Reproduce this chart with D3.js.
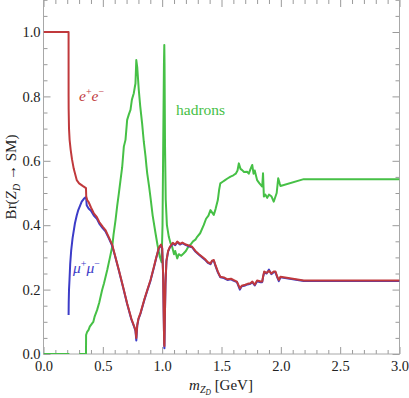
<!DOCTYPE html>
<html><head><meta charset="utf-8">
<script src="https://cdn.jsdelivr.net/npm/d3@7"></script>
<style>
html,body{margin:0;padding:0;background:#fff;}
svg{display:block;}
svg text{font-family:"Liberation Serif","Times New Roman","DejaVu Serif",serif !important;}
</style></head>
<body>
<script>
// ---- data ----
const xMajorTicks = [0, 0.5, 1, 1.5, 2, 2.5, 3];
const xTickLabels = ["0.0", "0.5", "1.0", "1.5", "2.0", "2.5", "3.0"];
const yMajorTicks = [0, 0.2, 0.4, 0.6, 0.8, 1.0];
const yTickLabels = ["0.0", "0.2", "0.4", "0.6", "0.8", "1.0"];

const eeData = [[0,1.0],[0.2113,1.0],[0.2115,0.80],[0.212,0.76],[0.215,0.70],[0.22,0.665],[0.229,0.634],[0.24,0.605],[0.255,0.575],[0.28,0.54],[0.30,0.53],[0.33,0.522],[0.358,0.515],[0.36,0.49],[0.368,0.478],[0.38,0.472],[0.40,0.455],[0.424,0.437],[0.45,0.425],[0.47,0.41],[0.50,0.395],[0.522,0.385],[0.55,0.363],[0.579,0.339],[0.60,0.31],[0.635,0.261],[0.67,0.21],[0.705,0.157],[0.74,0.11],[0.765,0.085],[0.775,0.075],[0.782,0.05],[0.79,0.09],[0.80,0.11],[0.817,0.127],[0.85,0.17],[0.88,0.205],[0.902,0.23],[0.93,0.27],[0.95,0.30],[0.972,0.33],[0.99,0.34],[1.0,0.33],[1.008,0.25],[1.013,0.12],[1.017,0.03],[1.019,0.025],[1.022,0.10],[1.028,0.22],[1.036,0.29],[1.05,0.32],[1.065,0.333],[1.09,0.345],[1.11,0.34],[1.127,0.349],[1.15,0.342],[1.17,0.346],[1.2,0.34],[1.23,0.336],[1.253,0.333],[1.28,0.32],[1.31,0.31],[1.337,0.302],[1.36,0.295],[1.385,0.285],[1.407,0.281],[1.42,0.29],[1.435,0.292],[1.45,0.275],[1.47,0.255],[1.49,0.24],[1.52,0.238],[1.55,0.232],[1.58,0.234],[1.60,0.23],[1.63,0.225],[1.655,0.204],[1.67,0.212],[1.70,0.215],[1.72,0.218],[1.744,0.22],[1.76,0.225],[1.78,0.215],[1.80,0.228],[1.83,0.225],[1.843,0.225],[1.85,0.24],[1.86,0.256],[1.88,0.252],[1.90,0.258],[1.92,0.25],[1.94,0.256],[1.955,0.256],[1.97,0.24],[1.983,0.23],[1.997,0.24],[2.193,0.228],[3.0,0.228]];

const mumuData = [[0.2115,0.121],[0.2125,0.16],[0.215,0.20],[0.219,0.23],[0.225,0.28],[0.233,0.32],[0.245,0.36],[0.265,0.406],[0.28,0.43],[0.293,0.447],[0.31,0.462],[0.322,0.473],[0.34,0.482],[0.355,0.487],[0.36,0.482],[0.364,0.462],[0.38,0.452],[0.40,0.445],[0.424,0.43],[0.45,0.42],[0.47,0.405],[0.50,0.39],[0.522,0.381],[0.55,0.36],[0.579,0.336],[0.60,0.308],[0.635,0.259],[0.67,0.208],[0.705,0.155],[0.74,0.108],[0.765,0.083],[0.775,0.072],[0.782,0.042],[0.79,0.088],[0.80,0.108],[0.817,0.125],[0.85,0.168],[0.88,0.203],[0.902,0.228],[0.93,0.268],[0.95,0.298],[0.972,0.328],[0.99,0.338],[1.0,0.328],[1.008,0.248],[1.013,0.118],[1.017,0.028],[1.019,0.018],[1.022,0.098],[1.028,0.218],[1.036,0.288],[1.05,0.318],[1.065,0.331],[1.09,0.343],[1.11,0.338],[1.127,0.347],[1.15,0.34],[1.17,0.344],[1.2,0.338],[1.23,0.334],[1.253,0.331],[1.28,0.318],[1.31,0.308],[1.337,0.3],[1.36,0.293],[1.385,0.283],[1.407,0.279],[1.42,0.288],[1.435,0.29],[1.45,0.273],[1.47,0.253],[1.49,0.238],[1.52,0.236],[1.55,0.23],[1.58,0.232],[1.60,0.228],[1.63,0.223],[1.655,0.2],[1.67,0.21],[1.70,0.213],[1.72,0.216],[1.744,0.218],[1.76,0.223],[1.78,0.213],[1.80,0.226],[1.83,0.223],[1.843,0.223],[1.85,0.238],[1.86,0.254],[1.88,0.25],[1.90,0.262],[1.92,0.248],[1.94,0.254],[1.955,0.254],[1.97,0.238],[1.983,0.226],[1.997,0.238],[2.193,0.227],[3.0,0.227]];

const hadronsData = [[0,0],[0.218,0],null,[0.302,0],[0.358,0],[0.359,0.059],[0.368,0.069],[0.38,0.075],[0.39,0.085],[0.41,0.095],[0.42,0.10],[0.43,0.115],[0.452,0.137],[0.47,0.16],[0.494,0.199],[0.51,0.22],[0.537,0.261],[0.56,0.30],[0.579,0.333],[0.59,0.37],[0.607,0.416],[0.621,0.46],[0.635,0.499],[0.649,0.54],[0.663,0.58],[0.677,0.644],[0.691,0.665],[0.705,0.727],[0.72,0.745],[0.733,0.758],[0.745,0.79],[0.761,0.81],[0.77,0.83],[0.775,0.84],[0.782,0.913],[0.79,0.89],[0.803,0.82],[0.815,0.77],[0.831,0.716],[0.845,0.66],[0.86,0.613],[0.868,0.582],[0.874,0.561],[0.89,0.52],[0.902,0.485],[0.92,0.43],[0.944,0.375],[0.96,0.34],[0.98,0.302],[0.995,0.285],[1.003,0.40],[1.010,0.70],[1.015,0.90],[1.018,0.96],[1.020,0.90],[1.024,0.65],[1.03,0.48],[1.04,0.40],[1.056,0.364],[1.07,0.345],[1.084,0.333],[1.10,0.31],[1.11,0.32],[1.127,0.297],[1.14,0.31],[1.16,0.305],[1.18,0.312],[1.2,0.32],[1.22,0.333],[1.24,0.34],[1.26,0.35],[1.28,0.355],[1.295,0.364],[1.32,0.375],[1.35,0.40],[1.37,0.42],[1.39,0.43],[1.407,0.447],[1.42,0.44],[1.435,0.432],[1.45,0.45],[1.469,0.478],[1.48,0.51],[1.49,0.53],[1.51,0.535],[1.53,0.54],[1.55,0.545],[1.576,0.551],[1.60,0.555],[1.62,0.56],[1.635,0.57],[1.646,0.592],[1.66,0.575],[1.674,0.571],[1.69,0.565],[1.716,0.566],[1.73,0.56],[1.745,0.575],[1.759,0.587],[1.77,0.56],[1.78,0.57],[1.80,0.54],[1.82,0.53],[1.843,0.52],[1.85,0.561],[1.857,0.489],[1.87,0.495],[1.885,0.485],[1.90,0.495],[1.92,0.49],[1.94,0.473],[1.955,0.489],[1.965,0.50],[1.978,0.546],[1.99,0.53],[1.997,0.522],[2.193,0.543],[3.0,0.543]];

// ---- layout ----
const W = 409, H = 398;
const pLeft = 43.5, pRight = 399.5, pTop = -0.2, pBottom = 354;
const serif = '"Liberation Serif","Times New Roman","DejaVu Serif",serif';
const svg = d3.select("body").append("svg").attr("width", W).attr("height", H)
  .attr("font-family", serif);

const x = d3.scaleLinear().domain([0, 3]).range([pLeft, pRight]);
const y = d3.scaleLinear().domain([0, 1.1]).range([pBottom, pTop]);

const frameColor = "#a8a8a8", tickColor = "#9a9a9a";
const xMinor = d3.range(0, 3.0001, 0.1).filter(v => Math.abs(v*2 - Math.round(v*2)) > 1e-6);
const yMinor = d3.range(0, 1.1001, 0.05).filter(v => Math.abs(v*5 - Math.round(v*5)) > 1e-6);

function styleAxis(g) {
  g.attr("font-family", serif);
  g.select(".domain").remove();
  g.selectAll(".tick line").attr("stroke", tickColor).attr("stroke-width", 1);
  g.selectAll(".tick text").attr("fill", "#222").attr("font-size", 14.5);
}
// bottom
svg.append("g").attr("transform", `translate(0,${pBottom})`)
  .call(d3.axisBottom(x).tickValues(xMajorTicks).tickFormat((d,i)=>xTickLabels[i]).tickSize(-7).tickPadding(7)).call(styleAxis);
svg.append("g").attr("transform", `translate(0,${pBottom})`)
  .call(d3.axisBottom(x).tickValues(xMinor).tickFormat("").tickSize(-4)).call(styleAxis);
// top
svg.append("g").attr("transform", `translate(0,0)`)
  .call(d3.axisTop(x).tickValues(xMajorTicks).tickFormat("").tickSize(-7)).call(styleAxis);
svg.append("g").attr("transform", `translate(0,0)`)
  .call(d3.axisTop(x).tickValues(xMinor).tickFormat("").tickSize(-4)).call(styleAxis);
// left
svg.append("g").attr("transform", `translate(${pLeft},0)`)
  .call(d3.axisLeft(y).tickValues(yMajorTicks).tickFormat((d,i)=>yTickLabels[i]).tickSize(-7).tickPadding(3)).call(styleAxis);
svg.append("g").attr("transform", `translate(${pLeft},0)`)
  .call(d3.axisLeft(y).tickValues(yMinor).tickFormat("").tickSize(-4)).call(styleAxis);
// right
svg.append("g").attr("transform", `translate(${pRight},0)`)
  .call(d3.axisRight(y).tickValues(yMajorTicks).tickFormat("").tickSize(-7)).call(styleAxis);
svg.append("g").attr("transform", `translate(${pRight},0)`)
  .call(d3.axisRight(y).tickValues(yMinor).tickFormat("").tickSize(-4)).call(styleAxis);

// frame
svg.append("rect").attr("x", pLeft).attr("y", -1).attr("width", pRight-pLeft).attr("height", pBottom+1)
  .attr("fill", "none").attr("stroke", frameColor).attr("stroke-width", 1);

// curves
const line = d3.line().defined(d => d !== null).x(d => x(d[0])).y(d => y(d[1]));
svg.append("clipPath").attr("id", "clp").append("rect")
  .attr("x", pLeft).attr("y", -2).attr("width", pRight-pLeft).attr("height", pBottom+2);
const plot = svg.append("g").attr("clip-path", "url(#clp)");
const cGreen = "#46c046", cBlue = "#3c3cc8", cRed = "#c0393c";
plot.append("path").datum(hadronsData).attr("d", line).attr("fill","none").attr("stroke", cGreen).attr("stroke-width", 2).attr("stroke-linejoin","round");
plot.append("path").datum(mumuData).attr("d", line).attr("fill","none").attr("stroke", cBlue).attr("stroke-width", 2).attr("stroke-linejoin","round");
plot.append("path").datum(eeData).attr("d", line).attr("fill","none").attr("stroke", cRed).attr("stroke-width", 2).attr("stroke-linejoin","round");

// curve labels
const fs = 15.5;
const ee = svg.append("text").attr("x", 79).attr("y", 101).attr("fill", cRed).attr("font-size", fs);
ee.append("tspan").attr("font-style","italic").text("e");
ee.append("tspan").attr("font-size", 10).attr("dy", -6).text("+");
ee.append("tspan").attr("font-style","italic").attr("dy", 6).text("e");
ee.append("tspan").attr("font-size", 10).attr("dy", -6).text("−");

svg.append("text").attr("x", 176).attr("y", 115).attr("fill", cGreen).attr("font-size", fs).text("hadrons");

const mm = svg.append("text").attr("x", 73).attr("y", 273).attr("fill", cBlue).attr("font-size", fs);
mm.append("tspan").attr("font-style","italic").text("μ");
mm.append("tspan").attr("font-size", 10).attr("dy", -6).text("+");
mm.append("tspan").attr("font-style","italic").attr("dy", 6).text("μ");
mm.append("tspan").attr("font-size", 10).attr("dy", -6).text("−");

// axis labels
const xl = svg.append("text").attr("x", 221).attr("y", 390).attr("text-anchor","middle").attr("fill","#222").attr("font-size", 15);
xl.append("tspan").attr("font-style","italic").text("m");
xl.append("tspan").attr("font-style","italic").attr("font-size", 10).attr("dy", 3).text("Z");
xl.append("tspan").attr("font-style","italic").attr("font-size", 7.5).attr("dy", 1.5).text("D");
xl.append("tspan").attr("dy", -4.5).text(" [GeV]");

const yl = svg.append("text").attr("transform", `translate(16,177) rotate(-90)`).attr("text-anchor","middle").attr("fill","#222").attr("font-size", 15);
yl.append("tspan").text("Br(");
yl.append("tspan").attr("font-style","italic").text("Z");
yl.append("tspan").attr("font-style","italic").attr("font-size", 10).attr("dy", 4).text("D");
yl.append("tspan").attr("dy", -4).text(" → SM)");
</script>
</body></html>
